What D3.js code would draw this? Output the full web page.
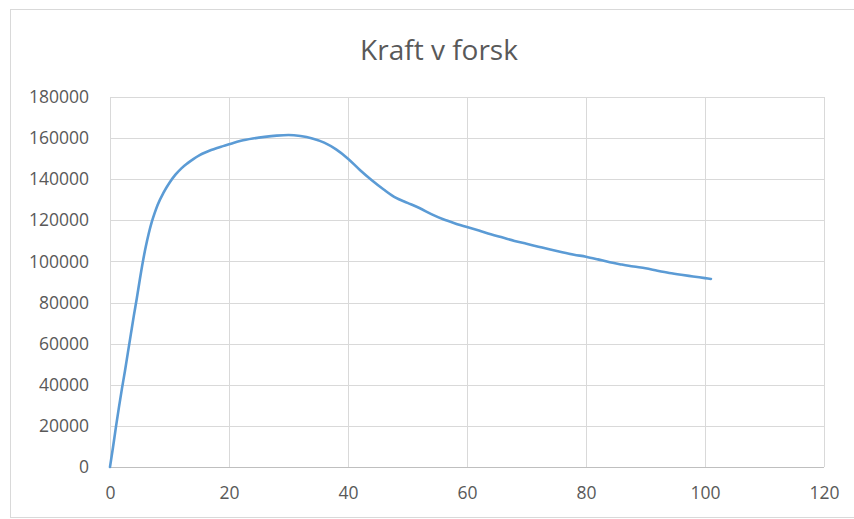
<!DOCTYPE html>
<html>
<head>
<meta charset="utf-8">
<script src="https://cdn.jsdelivr.net/npm/d3@7"></script>
<style>
  html, body { margin: 0; padding: 0; background: #fff; }
  svg { display: block; }
  text { font-family: "Open Sans", "Noto Sans", sans-serif; fill: #595959; }
</style>
</head>
<body>
<svg id="chart" width="854" height="519"></svg>
<script>
// Deformation (x) and force (y) readings
const deformation = [0, 0.5, 1, 1.5, 2, 2.5, 3, 3.5, 4, 4.5, 5, 5.5, 6, 6.5, 7, 7.5, 8, 9, 10, 11, 12, 13, 14, 15, 16, 17, 18, 19, 20,
  22, 24, 26, 28, 30, 32, 34, 36, 38, 40, 42, 44, 46, 48, 50, 52, 54, 56, 58, 60, 62, 64, 66, 68, 70,
  72, 74, 76, 78, 80, 82, 84, 86, 88, 90, 92, 94, 96, 98, 100, 101];
const force = [0, 9500, 19500, 29000, 38000, 46500, 55500, 64500, 73500, 82000, 91000, 99500, 107000, 113500, 119000,
  123500, 127500, 133500, 138300, 142200, 145300, 147700, 149800, 151600, 153000, 154200, 155200, 156100, 157000,
  158700, 159800, 160600, 161200, 161500, 161000, 159800, 157800, 154500, 150000, 144500, 139500, 135000,
  131000, 128500, 126000, 123000, 120500, 118500, 116700, 115000, 113200, 111600, 110000, 108600,
  107200, 105800, 104500, 103300, 102300, 101000, 99600, 98500, 97500, 96700, 95500, 94400, 93500,
  92700, 91900, 91500];

const titleText = "Kraft v forsk";
const xTicks = [0, 20, 40, 60, 80, 100, 120];
const yTicks = [0, 20000, 40000, 60000, 80000, 100000, 120000, 140000, 160000, 180000];

const svg = d3.select("#chart");

// chart frame
svg.append("rect")
  .attr("x", 10.5).attr("y", 9.5)
  .attr("width", 850).attr("height", 508)
  .attr("fill", "#fff").attr("stroke", "#d9d9d9").attr("stroke-width", 1);

const plot = { left: 110, right: 824, top: 97, bottom: 467 };

const x = d3.scaleLinear().domain([0, 120]).range([plot.left, plot.right]);
const y = d3.scaleLinear().domain([0, 180000]).range([plot.bottom, plot.top]);

// title
svg.append("text")
  .attr("x", 439).attr("y", 60)
  .attr("text-anchor", "middle")
  .attr("font-size", 28)
  .text(titleText);

// horizontal gridlines + y labels
const yAxis = d3.axisLeft(y).tickValues(yTicks).tickSize(-(plot.right - plot.left)).tickPadding(21)
  .tickFormat(d3.format("d"));
const gy = svg.append("g").attr("transform", `translate(${plot.left},0)`).call(yAxis);
gy.select(".domain").remove();
gy.selectAll(".tick line").attr("stroke", "#d9d9d9").attr("stroke-width", 1);
gy.selectAll(".tick text").attr("font-size", 17.5).attr("fill", "#595959")
  .attr("font-family", "\"Open Sans\", sans-serif");

// vertical gridlines + x labels
const xAxis = d3.axisBottom(x).tickValues(xTicks).tickSize(-(plot.bottom - plot.top)).tickPadding(20)
  .tickFormat(d3.format("d"));
const gx = svg.append("g").attr("transform", `translate(0,${plot.bottom})`).call(xAxis);
gx.select(".domain").remove();
gx.selectAll(".tick line").attr("stroke", "#d9d9d9").attr("stroke-width", 1);
gx.selectAll(".tick text").attr("font-size", 17.5).attr("fill", "#595959")
  .attr("font-family", "\"Open Sans\", sans-serif");

// crisp gridlines
svg.selectAll(".tick line").attr("shape-rendering", "crispEdges");

// bottom axis line
svg.append("line")
  .attr("x1", plot.left).attr("x2", plot.right)
  .attr("y1", plot.bottom).attr("y2", plot.bottom)
  .attr("stroke", "#bfbfbf").attr("shape-rendering", "crispEdges");

// force curve
const pts = deformation.map((d, i) => [d, force[i]]);
const line = d3.line().x(d => x(d[0])).y(d => y(d[1])).curve(d3.curveMonotoneX);
svg.append("path")
  .datum(pts)
  .attr("d", line)
  .attr("fill", "none")
  .attr("stroke", "#5b9bd5")
  .attr("stroke-width", 2.6)
  .attr("stroke-linejoin", "round")
  .attr("stroke-linecap", "round");
</script>
</body>
</html>
